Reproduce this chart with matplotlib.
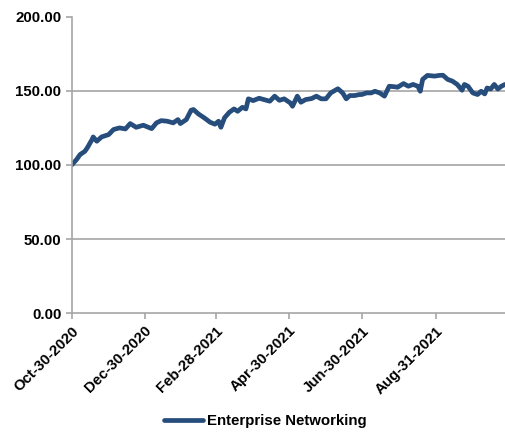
import matplotlib
matplotlib.use("Agg")
import matplotlib.pyplot as plt
import pandas as pd

# values (index, start = 100)
dates = [
    "2020-10-30", "2020-11-03", "2020-11-06", "2020-11-10", "2020-11-12",
    "2020-11-16", "2020-11-17", "2020-11-20", "2020-11-24", "2020-11-30",
    "2020-12-04", "2020-12-09", "2020-12-14", "2020-12-18", "2020-12-23",
    "2020-12-29", "2021-01-05", "2021-01-09", "2021-01-13", "2021-01-18",
    "2021-01-23", "2021-01-27", "2021-01-29", "2021-02-03", "2021-02-07",
    "2021-02-09", "2021-02-13", "2021-02-18", "2021-02-23", "2021-02-27",
    "2021-03-02", "2021-03-04", "2021-03-07", "2021-03-11", "2021-03-15",
    "2021-03-18", "2021-03-22", "2021-03-25", "2021-03-27", "2021-03-31",
    "2021-04-05", "2021-04-09", "2021-04-14", "2021-04-18", "2021-04-22",
    "2021-04-26", "2021-05-01", "2021-05-03", "2021-05-07", "2021-05-10",
    "2021-05-14", "2021-05-19", "2021-05-23", "2021-05-27", "2021-05-31",
    "2021-06-04", "2021-06-10", "2021-06-14", "2021-06-17", "2021-06-20",
    "2021-06-24", "2021-06-28", "2021-06-30", "2021-07-04", "2021-07-08",
    "2021-07-11", "2021-07-15", "2021-07-19", "2021-07-23", "2021-07-28",
    "2021-07-30", "2021-08-04", "2021-08-08", "2021-08-12", "2021-08-16",
    "2021-08-18", "2021-08-20", "2021-08-24", "2021-08-30", "2021-09-03",
    "2021-09-06", "2021-09-10", "2021-09-14", "2021-09-18", "2021-09-22",
    "2021-09-24", "2021-09-27", "2021-10-01", "2021-10-05", "2021-10-08",
    "2021-10-11", "2021-10-13", "2021-10-16", "2021-10-19", "2021-10-22",
    "2021-10-25", "2021-10-28",
]
values = [
    100.0, 103.6, 107.0, 109.2, 111.5,
    117.1, 118.9, 116.0, 118.9, 120.5,
    123.9, 125.0, 124.3, 127.9, 125.4,
    126.8, 124.5, 128.4, 129.9, 129.5,
    128.4, 130.6, 127.9, 130.6, 136.9,
    137.4, 134.5, 131.8, 128.8, 127.5,
    129.5, 125.4, 131.8, 135.5, 137.8,
    136.2, 138.9, 137.8, 144.6, 143.4,
    145.0, 144.1, 143.0, 146.4, 143.6,
    144.6, 141.9, 139.6, 146.4, 142.3,
    144.1, 144.8, 146.4, 144.6, 144.6,
    148.6, 151.4, 148.6, 144.6, 146.8,
    146.8, 147.5, 147.5, 148.6, 148.6,
    149.7, 148.6, 146.4, 153.1, 152.7,
    152.4, 154.9, 153.1, 154.3, 153.1,
    149.7, 157.7, 160.4, 159.9, 160.4,
    160.5, 157.7, 156.5, 154.3, 150.4,
    154.3, 153.1, 148.6, 147.5, 149.7,
    147.9, 151.9, 151.2, 154.3, 151.2,
    153.1, 154.3,
]
tick_dates = ["2020-10-30", "2020-12-30", "2021-02-28",
              "2021-04-30", "2021-06-30", "2021-08-31"]
series_name = "Enterprise Networking"

x = pd.to_datetime(dates)
ticks = pd.to_datetime(tick_dates)

plt.rcParams['font.family'] = ['Liberation Sans', 'DejaVu Sans']

fig = plt.figure(figsize=(5.05, 4.33), dpi=100)
ax = fig.add_axes([0.142, 0.2765, 0.858, 0.685])

ax.plot(x, values, color='#264D7C', linewidth=3.4, solid_capstyle='round',
        solid_joinstyle='round', label=series_name)

ax.set_ylim(0, 200)
ax.set_yticks([0, 50, 100, 150, 200])
ax.set_yticklabels([f"{v:.2f}" for v in [0, 50, 100, 150, 200]])
ax.set_xlim(x[0], x[-1])
ax.set_xticks(ticks)
ax.set_xticklabels([t.strftime("%b-%d-%Y") for t in ticks],
                   rotation=45, ha='right', rotation_mode='anchor')

for v in [50, 100, 150]:
    ax.axhline(v, color='#A6A6A6', linewidth=1.2, zorder=0)

for side in ['top', 'right']:
    ax.spines[side].set_visible(False)
for side in ['left', 'bottom']:
    ax.spines[side].set_color('#A6A6A6')
    ax.spines[side].set_linewidth(1.2)

ax.tick_params(axis='both', colors='#A6A6A6', length=4, width=1.2,
               labelcolor='black', labelsize=10.8)
for lab in ax.get_xticklabels() + ax.get_yticklabels():
    lab.set_fontweight('bold')

fig.legend(loc='center', bbox_to_anchor=(0.525, 0.027), frameon=False,
           prop={'weight': 'bold', 'size': 10.8}, handlelength=2.6,
           handletextpad=0.3)

fig.savefig("out.png", dpi=100)
